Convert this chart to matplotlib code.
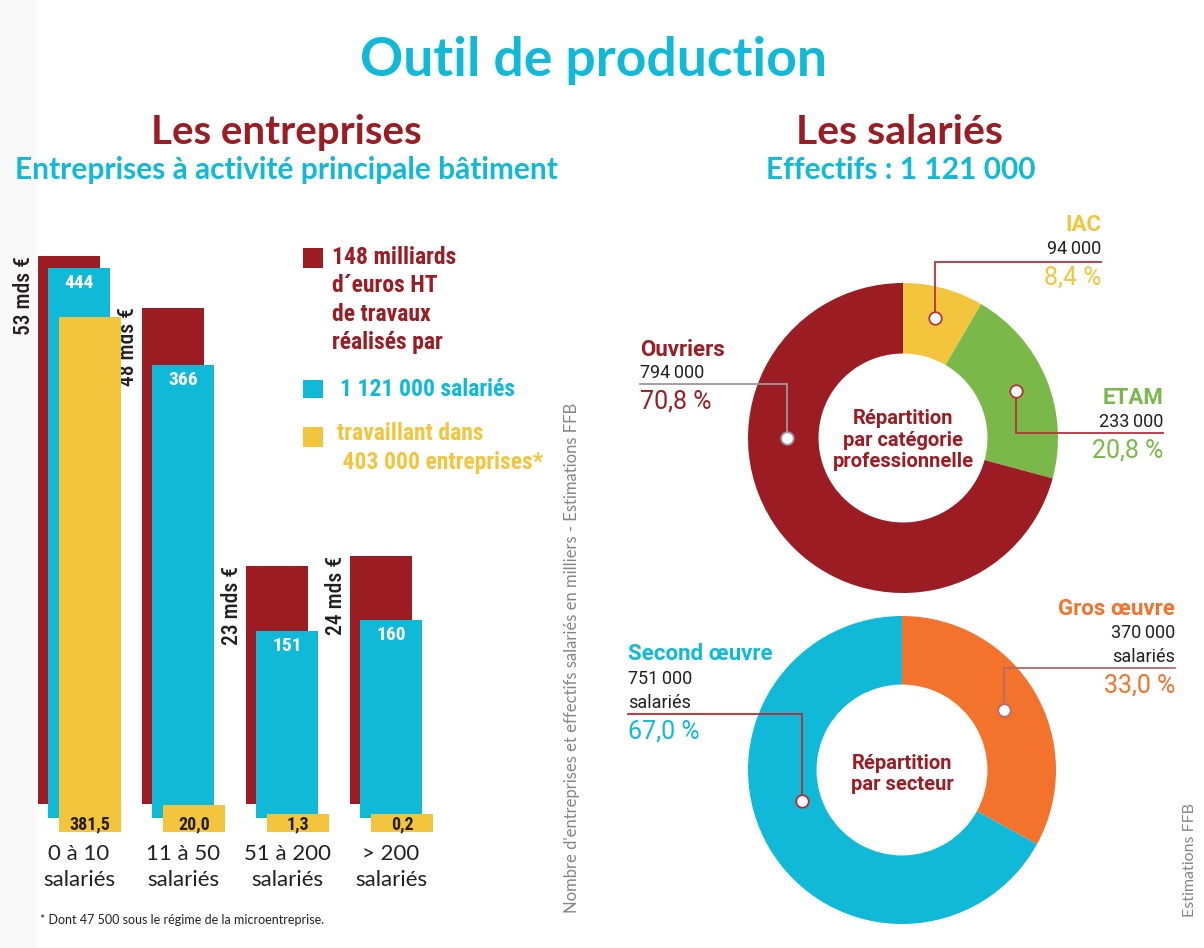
import numpy as np
import matplotlib
matplotlib.use("Agg")
import matplotlib.pyplot as plt
from matplotlib.patches import Rectangle
from matplotlib import font_manager

# ---------------- data ----------------
categories = ["0 à 10\nsalariés", "11 à 50\nsalariés", "51 à 200\nsalariés", "> 200\nsalariés"]
travaux_mds = [53, 48, 23, 24]            # milliards d'euros HT
salaries_k = [444, 366, 151, 160]         # milliers de salariés
entreprises_k = [381.5, 20.0, 1.3, 0.2]   # milliers d'entreprises

legend_texts = ["148 milliards\nd´euros HT\nde travaux\nréalisés par",
                "1 121 000 salariés",
                "travaillant dans\n 403 000 entreprises*"]

cat_pro_labels = ["IAC", "ETAM", "Ouvriers"]
cat_pro_effectifs = [94000, 233000, 794000]
cat_pro_pct = [8.4, 20.8, 70.8]

secteur_labels = ["Gros œuvre", "Second œuvre"]
secteur_effectifs = [370000, 751000]
secteur_pct = [33.0, 67.0]

# ---------------- style ----------------
RED = "#9c1c23"
CYAN = "#10b9d8"
YELLOW = "#f2c53d"
GREEN = "#7bb84a"
ORANGE = "#f3722c"
DARK = "#231f20"
GRAY = "#858585"
HEAD = ["Lato", "DejaVu Sans"]
LAB = ["Roboto", "DejaVu Sans"]


def pick_narrow():
    for fam in ["Roboto Condensed", "Liberation Sans Narrow", "Arial Narrow"]:
        try:
            font_manager.findfont(font_manager.FontProperties(family=fam),
                                  fallback_to_default=False)
            return [fam, "DejaVu Sans"], 1.0
        except Exception:
            pass
    return ["Roboto", "DejaVu Sans"], 0.88


NARROW, NS = pick_narrow()

W, H = 1204, 948
fig = plt.figure(figsize=(W / 100, H / 100), dpi=100)
fig.patch.set_facecolor("white")
fig.patches.append(Rectangle((0, 0), 35 / W, 1, transform=fig.transFigure,
                             color="#f8f8f8", zorder=-1))

# overlay in pixel coordinates (top-left origin) for text layout
lay = fig.add_axes([0, 0, 1, 1], zorder=5)
lay.set_xlim(0, W)
lay.set_ylim(H, 0)
lay.axis("off")
lay.patch.set_alpha(0)

# ---------------- titles ----------------
lay.text(593, 60, "Outil de production", ha="center", va="center",
         fontsize=38.5, weight="bold", color=CYAN, family=HEAD)
lay.text(286, 132, "Les entreprises", ha="center", va="center",
         fontsize=29, weight="bold", color=RED, family=HEAD)
lay.text(286, 170, "Entreprises à activité principale bâtiment", ha="center",
         va="center", fontsize=21.5, weight="bold", color=CYAN, family=HEAD)
lay.text(900, 132, "Les salariés", ha="center", va="center",
         fontsize=29.5, weight="bold", color=RED, family=HEAD)
lay.text(901, 170, "Effectifs : 1 121 000", ha="center", va="center",
         fontsize=21.5, weight="bold", color=CYAN, family=HEAD)

# ---------------- bars ----------------
x = np.arange(len(categories))
XL = (-79 / 104, (520 - 79) / 104)
BW = 62 / 104
OFF_R, OFF_Y = -0.096, 0.106
PLATE = 13.5  # label plate under yellow values


def bar_axes(baseline_px, ymax):
    ax = fig.add_axes([0, (H - baseline_px) / H, 520 / W, (baseline_px - 200) / H])
    ax.set_xlim(*XL)
    ax.set_ylim(0, ymax)
    ax.axis("off")
    ax.patch.set_alpha(0)
    return ax


ax_r = bar_axes(804, 58.4)
ax_c = bar_axes(818, 498.8)
ax_y = bar_axes(832, 468.1)

ax_r.bar(x + OFF_R, travaux_mds, width=BW, color=RED, linewidth=0)
for xi, v in zip(x, travaux_mds):
    ax_r.annotate(f"{v} mds €", xy=(xi + OFF_R - BW / 2, v), xytext=(-3, 0),
                  textcoords="offset pixels", rotation=90, ha="right", va="top",
                  fontsize=15.5, weight="medium", color=DARK, family=NARROW,
                  annotation_clip=False)

ax_c.bar(x, salaries_k, width=BW, color=CYAN, linewidth=0)
for xi, v in zip(x, salaries_k):
    ax_c.annotate(f"{v}", xy=(xi, v), xytext=(0, -15), textcoords="offset pixels",
                  ha="center", va="center", fontsize=14, weight="bold",
                  color="white", family=NARROW)
for xi, lab in zip(x, categories):
    ax_c.annotate(lab, xy=(xi, 0), xytext=(0, -49), textcoords="offset pixels",
                  ha="center", va="center", fontsize=16, color=DARK,
                  family=HEAD, linespacing=1.42, annotation_clip=False)

ax_y.bar(x + OFF_Y, [PLATE] * len(x), width=BW, color=YELLOW, linewidth=0)
ax_y.bar(x + OFF_Y, entreprises_k, width=BW, color=YELLOW, linewidth=0)
for xi, v in zip(x, entreprises_k):
    ax_y.annotate(f"{v:.1f}".replace(".", ","), xy=(xi + OFF_Y, 0), xytext=(0, 8),
                  textcoords="offset pixels", ha="center", va="center",
                  fontsize=13, weight="bold", color=DARK, family=NARROW)

# legend
leg_boxes = [(303, 248, 20, 20, RED), (303, 380, 20, 18, CYAN), (303, 427, 20, 20, YELLOW)]
leg_pos = [(332, 300, RED), (340, 389, CYAN), (337, 448, YELLOW)]
for (bx, by, bw, bh, col) in leg_boxes:
    lay.add_patch(Rectangle((bx, by), bw, bh, color=col, linewidth=0))
for txt, (tx, ty, col) in zip(legend_texts, leg_pos):
    lay.text(tx, ty, txt, ha="left", va="center", fontsize=17 * NS, weight="bold",
             color=col, family=NARROW, linespacing=1.3 / NS)

lay.text(572, 658, "Nombre d'entreprises et effectifs salariés en milliers - Estimations FFB",
         rotation=90, ha="center", va="center", fontsize=12, color=GRAY, family=HEAD)
lay.text(1190, 860, "Estimations FFB", rotation=90, ha="center", va="center",
         fontsize=11.5, color=GRAY, family=HEAD)
lay.text(40, 920, "* Dont 47 500 sous le régime de la microentreprise.", ha="left",
         va="center", fontsize=9, color=DARK, family=HEAD)


# ---------------- donuts ----------------
def donut(cx, cy, R, values, colors, inner):
    ax = fig.add_axes([(cx - 1.1 * R) / W, (H - cy - 1.1 * R) / H, 2.2 * R / W, 2.2 * R / H])
    wedges, _ = ax.pie(values, colors=colors, startangle=90, counterclock=False,
                       radius=1, wedgeprops=dict(width=1 - inner, linewidth=0))
    ax.set_xlim(-1.1, 1.1)
    ax.set_ylim(-1.1, 1.1)
    ax.axis("off")
    return wedges


def fmt_num(v):
    return f"{v:,}".replace(",", "\u2009")


def fmt_pct(p):
    return f"{p:.1f} %".replace(".", ",")


def leader(cx, cy, R, wedge, ang, rf, spec, color, lcol, name, num, pct, extra=None):
    a = np.deg2rad(ang if ang is not None else (wedge.theta1 + wedge.theta2) / 2)
    mx = cx + R * rf * np.cos(a)
    my = cy - R * rf * np.sin(a)
    tx, ha, ys = spec["x"], spec["ha"], spec["y"]
    ly = spec["line"]
    lay.plot([mx, mx, tx], [my, ly, ly], color=lcol, lw=1.3, solid_joinstyle="miter")
    lay.plot([mx], [my], "o", ms=9, mfc="white", mec=lcol, mew=1.3)
    lay.text(tx, ys[0], name, ha=ha, va="center", fontsize=16, weight="bold",
             color=color, family=LAB)
    lay.text(tx, ys[1], num, ha=ha, va="center", fontsize=13, color=DARK, family=LAB)
    k = 2
    if extra:
        lay.text(tx, ys[2], extra, ha=ha, va="center", fontsize=13, color=DARK, family=LAB)
        k = 3
    lay.text(tx, ys[k], pct, ha=ha, va="center", fontsize=18, color=color, family=LAB)


# top donut
c1 = (903, 438, 155)
w1 = donut(*c1, cat_pro_pct, [YELLOW, GREEN, RED], 0.545)
top_specs = [
    dict(x=1101, ha="right", y=[225, 249, 277], line=262),
    dict(x=1163, ha="right", y=[398, 422, 450], line=433),
    dict(x=640, ha="left", y=[350, 373, 401], line=384),
]
top_angles = [None, None, 180]
top_rf = [0.8, 0.79, 0.75]
top_cols = [YELLOW, GREEN, RED]
top_lcols = ["#b8323a", "#b8323a", "#9a9a9a"]
for i in range(3):
    leader(*c1, w1[i], top_angles[i], top_rf[i], top_specs[i], top_cols[i], top_lcols[i],
           cat_pro_labels[i], fmt_num(cat_pro_effectifs[i]), fmt_pct(cat_pro_pct[i]))
lay.text(903, 440, "Répartition\npar catégorie\nprofessionnelle", ha="center",
         va="center", fontsize=14.5, weight="bold", color=RED, family=LAB,
         linespacing=1.15)

# bottom donut
c2 = (902, 770, 154)
w2 = donut(*c2, secteur_pct, [ORANGE, CYAN], 0.555)
bot_specs = [
    dict(x=1175, ha="right", y=[609, 633, 657, 685], line=668),
    dict(x=628, ha="left", y=[654, 679, 703, 731], line=714),
]
bot_angles = [None, 197]
bot_rf = [0.77, 0.68]
bot_cols = [ORANGE, CYAN]
bot_lcols = ["#b86a6a", "#c0282f"]
for i in range(2):
    leader(*c2, w2[i], bot_angles[i], bot_rf[i], bot_specs[i], bot_cols[i], bot_lcols[i],
           secteur_labels[i], fmt_num(secteur_effectifs[i]), fmt_pct(secteur_pct[i]),
           extra="salariés")
lay.text(902, 774, "Répartition\npar secteur", ha="center", va="center",
         fontsize=14.5, weight="bold", color=RED, family=LAB, linespacing=1.15)

fig.savefig("out.png", dpi=100, facecolor="white")
